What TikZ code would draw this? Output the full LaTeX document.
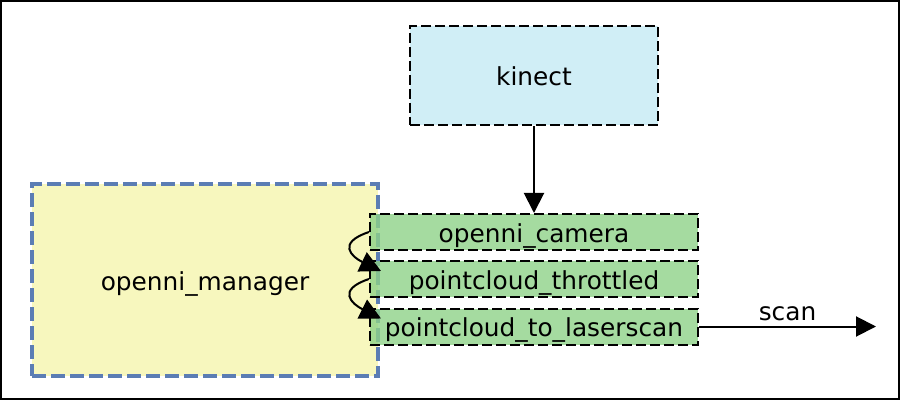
\documentclass[tikz,border=0pt]{standalone}
\usepackage{fontspec}
\setmainfont{DejaVu Sans}
\usetikzlibrary{arrows.meta}
\definecolor{kinectblue}{HTML}{D0EEF6}
\definecolor{managerfill}{HTML}{F7F7BE}
\definecolor{managerline}{HTML}{5B7DB4}
\definecolor{nodegreen}{RGB}{143,210,136}
\tikzstyle{label text}=[text height=1.2em, text depth=.18em]
\tikzstyle{dev box}=[label text, draw=black, line width=1pt, dash pattern=on 5pt off 2pt, fill=kinectblue, minimum width=124pt, minimum height=49.5pt, inner sep=0pt]
\tikzstyle{manager box}=[label text, draw=managerline, line width=1.6pt, dash pattern=on 7pt off 2.5pt, fill=managerfill, minimum width=173pt, minimum height=96pt, inner sep=0pt]
\tikzstyle{nodelet box}=[label text, draw=black, line width=1pt, dash pattern=on 5pt off 2pt, fill=nodegreen, fill opacity=.8, text opacity=1, minimum width=164pt, minimum height=18pt, inner sep=0pt]
\tikzstyle{topic}=[line width=1pt]
\tikzstyle{loop topic}=[topic, -{Triangle[length=10.5pt,width=10.5pt]}]

\begin{document}
\begin{tikzpicture}[x=.5pt,y=-.5pt,>={Triangle[length=10pt,width=10pt]},font=\fontsize{12.4}{14}\selectfont]

    % Frame
    \useasboundingbox (0,0) rectangle (900,401);
    \draw[line width=1pt] (1,1) rectangle (899,399);

    % Manager and devices
    \node[manager box] (manager) at (205,280) {openni\_manager};
    \node[dev box] (kinect) at (534,75.5) {kinect};

    % Nodelets
    \node[nodelet box] (camera) at (534,232) {openni\_camera};
    \node[nodelet box] (throttled) at (534,279) {pointcloud\_throttled};
    \node[nodelet box] (laserscan) at (534,326.5) {pointcloud\_to\_laserscan};
    \coordinate (scanend) at (876,326.5);

    % Topics
    \draw[topic,->] (kinect) -- (camera);
    \draw[loop topic] (camera.west) .. controls (336,243) and (352,257) .. ([xshift=6pt,yshift=-5.5pt]throttled.north west);
    \draw[loop topic] (throttled.west) .. controls (336,290) and (352,304) .. ([xshift=6pt,yshift=-5.5pt]laserscan.north west);
    \draw[topic,->] (laserscan) -- (scanend) node[midway,above,inner sep=2.5pt] {scan};

\end{tikzpicture}
\end{document}
